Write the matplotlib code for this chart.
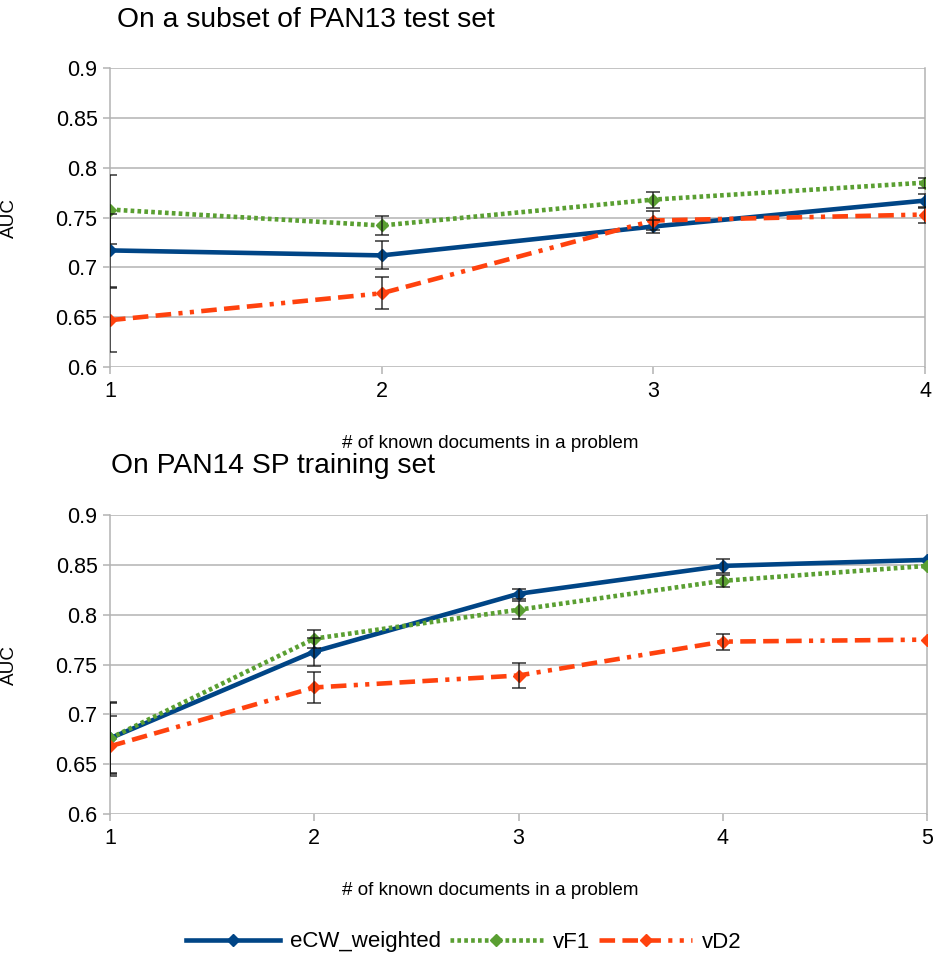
import numpy as np
import matplotlib
matplotlib.use("Agg")
import matplotlib.pyplot as plt
from matplotlib.lines import Line2D

plt.rcParams['font.family'] = ['Liberation Sans', 'DejaVu Sans']

# PAN13 subset
x_top = [1, 2, 3, 4]
ecw_top = [0.717, 0.712, 0.741, 0.767]
ecw_top_err = [0.037, 0.014, 0.007, 0.007]
vf1_top = [0.758, 0.742, 0.768, 0.785]
vf1_top_err = [0.035, 0.010, 0.008, 0.005]
vd2_top = [0.647, 0.674, 0.747, 0.753]
vd2_top_err = [0.032, 0.016, 0.010, 0.008]

# PAN14 SP training
x_bot = [1, 2, 3, 4, 5]
ecw_bot = [0.676, 0.763, 0.821, 0.849, 0.855]
ecw_bot_err = [0.036, 0.014, 0.005, 0.007, 0.0]
vf1_bot = [0.676, 0.776, 0.805, 0.834, 0.849]
vf1_bot_err = [0.035, 0.009, 0.009, 0.006, 0.0]
vd2_bot = [0.668, 0.727, 0.739, 0.773, 0.775]
vd2_bot_err = [0.030, 0.016, 0.013, 0.008, 0.0]

yticks = [0.6, 0.65, 0.7, 0.75, 0.8, 0.85, 0.9]
names = ['eCW_weighted', 'vF1', 'vD2']
colors = ['#004586', '#5a9f32', '#ff420e']
styles = ['-', (0, (0.8, 0.7)), (0, (3.4, 1.6, 3.4, 1.6, 3.4, 1.6, 0.9, 1.6, 0.9, 1.6))]
LW = 3.3
GRID = '#b3b3b3'


def draw(ax, x, series, errs):
    for y, e, c, ls in zip(series, errs, colors, styles):
        ax.plot(x, y, color=c, lw=LW, ls=ls, marker='D', ms=6.5,
                dash_capstyle='butt', zorder=3)
        x_a, y_a, e_a = np.array(x), np.array(y), np.array(e)
        m = e_a > 0
        ax.errorbar(x_a[m], y_a[m], yerr=e_a[m], fmt='none', ecolor='#111111',
                    elinewidth=1.1, capsize=5, capthick=1.1, zorder=4, alpha=0.85)
    ax.set_xlim(x[0], x[-1])
    ax.set_ylim(0.6, 0.9)
    ax.set_xticks(x)
    ax.set_yticks(yticks)
    ax.set_yticklabels(['%g' % v for v in yticks])
    ax.yaxis.grid(True, color=GRID, lw=1.1)
    ax.set_axisbelow(True)
    for s in ['top', 'bottom']:
        ax.spines[s].set_visible(False)
    for s in ['left', 'right']:
        ax.spines[s].set_color(GRID)
        ax.spines[s].set_linewidth(1.1)
    ax.tick_params(axis='both', colors=GRID, labelcolor='black', labelsize=15.5,
                   length=5, width=1.1)
    ax.tick_params(axis='x', pad=5)
    ax.tick_params(axis='y', pad=4)
    ax.set_xlabel('# of known documents in a problem', fontsize=13.6)
    ax.xaxis.set_label_coords(0.466, -0.227)
    ax.set_ylabel('AUC', fontsize=13.6)
    ax.yaxis.set_label_coords(-0.113, 0.5)


fig = plt.figure(figsize=(9.34, 9.57), dpi=100)
ax1 = fig.add_axes([0.1178, 0.6165, 0.8726, 0.3124])
ax2 = fig.add_axes([0.1178, 0.1494, 0.8747, 0.3124])

draw(ax1, x_top, [ecw_top, vf1_top, vd2_top],
     [ecw_top_err, vf1_top_err, vd2_top_err])
draw(ax2, x_bot, [ecw_bot, vf1_bot, vd2_bot],
     [ecw_bot_err, vf1_bot_err, vd2_bot_err])

fig.text(117 / 934, 1 - 20 / 957, 'On a subset of PAN13 test set',
         fontsize=20.3, va='center', ha='left')
fig.text(111 / 934, 1 - 466 / 957, 'On PAN14 SP training set',
         fontsize=20.3, va='center', ha='left')

handles = [Line2D([], [], color=c, lw=LW, ls=ls, marker='D', ms=6.5,
                  dash_capstyle='butt') for c, ls in zip(colors, styles)]
fig.legend(handles, names, loc='center', bbox_to_anchor=(0.497, 1 - 942 / 957),
           ncol=3, frameon=False, fontsize=16, handlelength=4.2,
           columnspacing=0.4, handletextpad=0.45)

fig.savefig('out.png', dpi=100)
